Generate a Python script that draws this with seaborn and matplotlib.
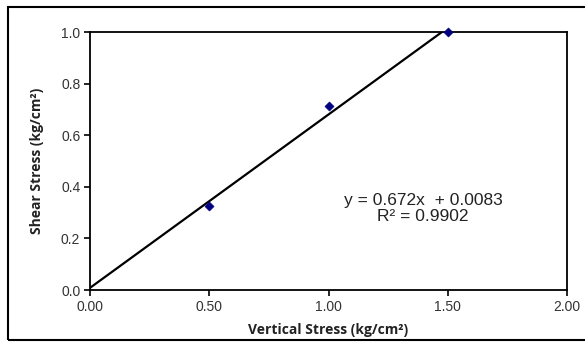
import numpy as np
import pandas as pd
import matplotlib
matplotlib.use("Agg")
import matplotlib.pyplot as plt
import seaborn as sns
from matplotlib.patches import Rectangle

# Data
vertical_stress = [0.5, 1.0, 1.5]
shear_stress = [0.325, 0.715, 1.0]
trend_x = [0.0, 1.5]
slope = 0.672
intercept = 0.0083
r2 = 0.9902
x_ticks = [0.0, 0.5, 1.0, 1.5, 2.0]
y_ticks = [0.0, 0.2, 0.4, 0.6, 0.8, 1.0]

sns.set_theme(style="white")
plt.rcParams['font.family'] = ['Liberation Sans', 'DejaVu Sans']

fig = plt.figure(figsize=(5.85, 3.43), dpi=100)
ax = fig.add_axes([90/585, 1-290/343, (567-90)/585, (290-32)/343])

df = pd.DataFrame({"x": vertical_stress, "y": shear_stress})
trend = pd.DataFrame({"x": trend_x, "y": [slope*v + intercept for v in trend_x]})

sns.lineplot(data=trend, x="x", y="y", ax=ax, color="black", linewidth=1.6)
sns.scatterplot(data=df, x="x", y="y", ax=ax, marker="D", color="#000080",
                s=22, edgecolor="#000080", zorder=5, clip_on=False)

ax.set_xlim(0, 2.0)
ax.set_ylim(0, 1.0)
ax.set_xticks(x_ticks)
ax.set_yticks(y_ticks)
ax.set_xticklabels([f"{v:.2f}" for v in x_ticks])
ax.set_yticklabels([f"{v:.1f}" for v in y_ticks])
ax.tick_params(axis="both", direction="out", length=4, width=1.2, color="black",
               labelsize=10, labelcolor="#333333", pad=3, bottom=True, left=True)
for s in ax.spines.values():
    s.set_color("black")
    s.set_linewidth(1.3)

lab_font = dict(family=['Open Sans', 'DejaVu Sans'], weight="bold", size=10, color="#222222")
ax.set_xlabel("Vertical Stress (kg/cm²)", **lab_font, labelpad=7)
ax.set_ylabel("Shear Stress (kg/cm²)", **lab_font, labelpad=12)

ax.text(1.396, 0.316, f"y = {slope}x  + {intercept}\nR² = {r2}", ha="center", va="center",
        fontsize=12.5, color="#222222", linespacing=1.1)

fig.add_artist(Rectangle((8/585, 3/343), 1.0, (343-7-3)/343, fill=False, lw=1.5,
                         edgecolor="black", transform=fig.transFigure, clip_on=False))

fig.savefig("out.png", dpi=100)
